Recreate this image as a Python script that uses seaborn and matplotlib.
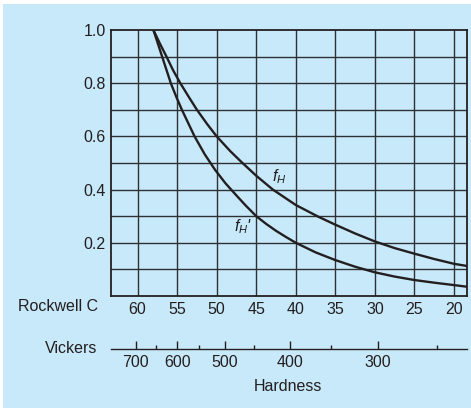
import matplotlib
matplotlib.use("Agg")
import matplotlib.pyplot as plt
import seaborn as sns
import pandas as pd
from matplotlib.patches import Rectangle

# ---- data ----
fh_hrc = [58.0, 57.2, 56.35, 55.5, 54.6, 53.5, 52.5, 51.2, 50.0, 48.3, 46.85, 45.0, 42.9, 40.0, 37.15, 35.0, 32.5, 30.0, 27.5, 25.0, 22.5, 20.0, 18.4]
fh_val = [1.0, 0.95, 0.9, 0.848, 0.8, 0.747, 0.7, 0.646, 0.6, 0.545, 0.503, 0.452, 0.4, 0.342, 0.298, 0.268, 0.235, 0.205, 0.18, 0.159, 0.139, 0.121, 0.113]

fhp_hrc = [58.0, 57.45, 56.9, 56.35, 55.8, 55.1, 54.4, 53.6, 52.8, 51.5, 50.2, 48.9, 47.6, 46.3, 45.0, 43.7, 42.5, 41.2, 40.0, 37.5, 35.0, 32.5, 30.0, 27.5, 25.0, 22.5, 20.0, 18.4]
fhp_val = [1.0, 0.95, 0.9, 0.85, 0.8, 0.748, 0.7, 0.65, 0.6, 0.532, 0.474, 0.424, 0.381, 0.339, 0.3, 0.27, 0.245, 0.221, 0.2, 0.164, 0.135, 0.11, 0.089, 0.073, 0.06, 0.05, 0.041, 0.035]

rockwell_ticks = [60, 55, 50, 45, 40, 35, 30, 25, 20]
y_ticks = [0.2, 0.4, 0.6, 0.8, 1.0]
y_grid = [0.1, 0.2, 0.3, 0.4, 0.5, 0.6, 0.7, 0.8, 0.9]

vickers_major = [700, 600, 500, 400, 300]
vickers_major_hrc = [60.25, 55.0, 48.95, 40.76, 29.66]
vickers_minor_hrc = [57.65, 52.27, 45.33, 35.5, 22.1]   # 650, 550, 450, 350, 250

# ---- style ----
sns.set_theme(style="white")
plt.rcParams["font.family"] = ["Liberation Sans", "DejaVu Sans"]
plt.rcParams["mathtext.fontset"] = "custom"
plt.rcParams["mathtext.it"] = "Liberation Sans:italic"
plt.rcParams["mathtext.rm"] = "Liberation Sans"

BG = "#c8e9f9"
INK = "#231f20"
GRID = "#2e3033"
FS = 11.5

W, H = 471, 409
fig = plt.figure(figsize=(W / 100, H / 100), dpi=100)
fig.patch.set_facecolor("white")
fig.patches.append(Rectangle((3 / W, 1 / H), (W - 3) / W, (H - 5) / H,
                             transform=fig.transFigure, facecolor=BG,
                             edgecolor="none", zorder=-10))

def fx(px):
    return px / W

def fy(py):
    return 1 - py / H

left, right, top, bottom = 110.7, 466.7, 30.0, 296.0
ax = fig.add_axes([fx(left), fy(bottom), fx(right - left), (bottom - top) / H])
ax.set_facecolor(BG)

df = pd.DataFrame({
    "hrc": fh_hrc + fhp_hrc,
    "f": fh_val + fhp_val,
    "series": ["fH"] * len(fh_hrc) + ["fH'"] * len(fhp_hrc),
})
lines = sns.lineplot(data=df, x="hrc", y="f", hue="series", palette=[INK, INK],
                     estimator=None, legend=False, linewidth=1.7, ax=ax, zorder=3)
for ln in ax.get_lines():
    ln.set_solid_joinstyle("round")

ax.set_xticks(rockwell_ticks)
ax.set_xticklabels([str(t) for t in rockwell_ticks])
ax.set_yticks(y_ticks)
ax.set_yticklabels([f"{t:.1f}" for t in y_ticks])
ax.set_xlim(63.4, 18.4)
ax.set_ylim(0, 1.0)
for t in rockwell_ticks:
    ax.axvline(t, color=GRID, lw=1.0, zorder=1)
for g in y_grid:
    ax.axhline(g, color=GRID, lw=1.0, zorder=1)
ax.set_xlabel("")
ax.set_ylabel("")
ax.tick_params(axis="both", length=0, labelsize=FS, labelcolor=INK)
ax.tick_params(axis="x", pad=4.5)
ax.tick_params(axis="y", pad=3.5)
for s in ax.spines.values():
    s.set_color(INK)
    s.set_linewidth(1.3)
    s.set_visible(True)

ax.text(42.05, 0.447, "$f_H$", fontsize=FS, color=INK, ha="center", va="center")
ax.text(46.7, 0.261, "$f_H$'", fontsize=FS, color=INK, ha="center", va="center",
        fontstyle="italic")

# ---- Vickers scale ----
vy = 349.3
ax2 = fig.add_axes([fx(left), fy(vy), fx(right - left), 0.0001])
ax2.set_facecolor("none")
ax2.set_yticks([])
for k in ("left", "right", "top"):
    ax2.spines[k].set_visible(False)
ax2.spines["bottom"].set_color(INK)
ax2.spines["bottom"].set_linewidth(1.0)
ax2.set_xticks(vickers_major_hrc)
ax2.set_xticklabels([str(v) for v in vickers_major])
ax2.set_xticks(vickers_minor_hrc, minor=True)
ax2.set_xlim(63.4, 18.4)
ax2.tick_params(axis="x", which="major", direction="in", length=6, width=1.0,
                color=INK, labelsize=FS, labelcolor=INK, pad=4, bottom=True)
ax2.tick_params(axis="x", which="minor", direction="in", length=3, width=1.0,
                color=INK, bottom=True)

fig.text(fx(97.7), fy(306.7), "Rockwell C", ha="right", va="center", fontsize=FS, color=INK)
fig.text(fx(97.7), fy(348.3), "Vickers", ha="right", va="center", fontsize=FS, color=INK)
fig.text(fx(288), fy(386.7), "Hardness", ha="center", va="center", fontsize=FS, color=INK)

fig.savefig("out.png", dpi=100, facecolor=fig.get_facecolor())
